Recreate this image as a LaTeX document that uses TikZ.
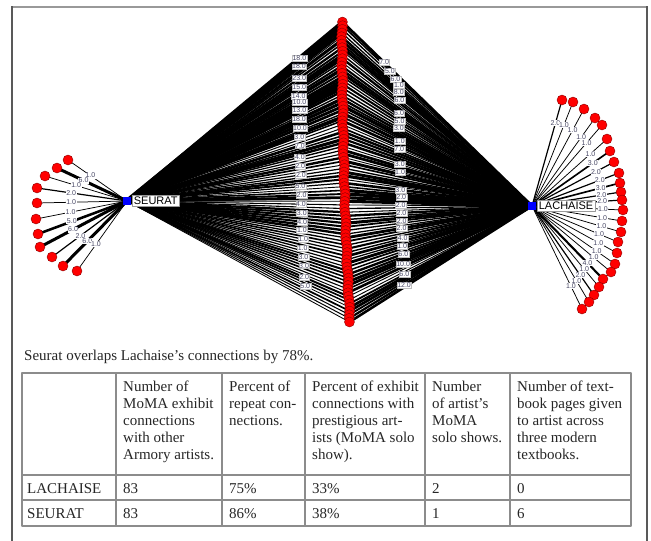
\documentclass[tikz,border=0pt]{standalone}
\usepackage{fontspec}
\setmainfont{Liberation Serif}
\setsansfont{Liberation Sans}
\usetikzlibrary{positioning,backgrounds}
\definecolor{weightgray}{RGB}{70,70,100}
\definecolor{rulegray}{RGB}{140,140,140}

\begin{document}
\begin{tikzpicture}[x=1pt,y=-1pt,line join=round]
	\tikzstyle{artist}=[circle,fill=red,draw=red!55!black,line width=0.4pt,minimum size=10pt,inner sep=0pt]
	\tikzstyle{hub}=[rectangle,fill=blue,minimum size=8pt,inner sep=0pt]
	\tikzstyle{hub label}=[fill=white,draw=black!40,line width=0.3pt,inner sep=1.5pt,font=\sffamily\fontsize{11}{12}\selectfont]
	\tikzstyle{weight}=[fill=white,draw=black!25,line width=0.2pt,inner sep=0.5pt,text=weightgray,font=\sffamily\fontsize{7}{7}\selectfont]
	\tikzstyle{link}=[draw=black]
	\tikzstyle{cell}=[inner sep=0pt,align=left,text=black!85,font=\fontsize{15}{17}\selectfont]
	
	\useasboundingbox (0,0) rectangle (651,541);
	\pgfmathsetseed{11}
	
	% Frame of the figure
	\draw[black!40,line width=2pt] (11,7) -- (648,7);
	\draw[black!65,line width=1.2pt] (12,6) -- (12,541);
	\draw[black!65,line width=1.2pt] (647,6) -- (647,541);
	
	% Draw the two hubs
	\node[hub] (S) at (127,201) {};
	\node[hub label,right=1pt of S] (S-l) {SEURAT};
	\node[hub] (L) at (532,206) {};
	\node[hub label,right=1pt of L] (L-l) {LACHAISE};
	
	% Draw the shared artists
	\foreach \name in {1,...,83}
	\node[artist] (M-\name) at ({342+8*((\name-1)/82)*((\name-1)/82)+0.6*sin(\name*47)},{22+(\name-1)*3.6585}) {};
	
	% Draw the artists linked to Seurat only
	\foreach \name / \x / \y in {1/68/160,2/57/168,3/45/176,4/37/188,5/37/203,6/36/219,7/38/234,8/40/247,9/52/257,10/63/266,11/77/271}
	\node[artist] (SA-\name) at (\x,\y) {};
	
	% Draw the artists linked to Lachaise only
	\foreach \name / \x / \y in {1/562/100,2/573/102,3/584/109,4/595/118,5/602/125,6/607/139,7/610/151,8/614/162,9/619/173,10/620/183,11/621/192,12/622/200,13/623/210,14/622/221,15/621/232,16/618/242,17/617/253,18/615/264,19/611/272,20/603/279,21/599/287,22/594/295,23/589/302,24/582/309}
	\node[artist] (LA-\name) at (\x,\y) {};
	
	\begin{scope}[on background layer]
		% Connect Seurat to the shared artists
		\foreach \name in {1,...,83}{
			\pgfmathsetmacro\w{0.8+rnd*(4.2-3.2*\name/83)}
			\draw[link,line width=\w pt] (S.center) -- (M-\name.center);
		}
		
		% Connect Lachaise to the shared artists
		\foreach \name in {1,...,83}{
			\pgfmathsetmacro\w{0.9+rnd*2.4}
			\draw[link,line width=\w pt] (L.center) -- (M-\name.center);
		}
		
		% Weights on the shared links
		\foreach \name / \v in {1/18.0,4/18.0,8/23.0,11/15.0,14/14.0,16/10.0,19/13.0,22/18.0,25/10.0,28/3.0,31/7.0,35/4.0,38/2.0,41/2.0,45/5.0,48/2.0,51/4.0,54/3.0,57/4.0,60/1.0,63/1.0,66/1.0,69/3.0,72/3.0,76/2.0,79/5.0}
		\path (S.center) -- (M-\name.center) node[weight,pos=0.8] {\v};
		
		\foreach \name / \p / \v in {1/0.78/7.0,2/0.75/5.0,3/0.72/6.0,4/0.7/1.0,7/0.7/8.0,10/0.7/6.0,15/0.7/6.0,18/0.7/5.0,21/0.7/3.0,26/0.7/1.0,29/0.7/7.0,35/0.7/3.0,38/0.7/1.0,45/0.7/3.0,48/0.7/2.0,51/0.7/2.0,54/0.7/2.0,57/0.7/2.0,60/0.7/2.0,64/0.7/4.0,67/0.7/1.0,70/0.7/6.0,74/0.7/10.0,78/0.7/6.0,82/0.7/12.0}
		\path (L.center) -- (M-\name.center) node[weight,pos=\p] {\v};
		
		% Connect Seurat to its own artists
		\foreach \name / \v in {1/1.0,2/6.0,3/1.0,4/2.0,5/1.0,6/1.0,7/5.0,8/6.0,9/2.0,10/6.0,11/1.0}{
			\pgfmathsetmacro\w{0.3+0.45*\v}
			\draw[link,line width=\w pt] (S.center) -- (SA-\name.center) node[weight,draw=none,pos=0.62] {\v};
		}
		
		% Connect Lachaise to its own artists
		\foreach \name / \v in {1/2.0,2/1.0,3/1.0,4/1.0,5/1.0,6/1.0,7/3.0,8/2.0,9/2.0,10/3.0,11/2.0,12/2.0,13/1.0,14/1.0,15/1.0,16/1.0,17/1.0,18/1.0,19/1.0,20/4.0,21/1.0,22/2.0,23/1.0,24/1.0}{
			\pgfmathsetmacro\w{0.3+0.45*\v}
			\draw[link,line width=\w pt] (L.center) -- (LA-\name.center) node[weight,draw=none,pos=0.78] {\v};
		}
	\end{scope}
	
	% Caption and table
	\node[cell,anchor=base west] (caption) at (24,360) {Seurat overlaps Lachaise’s connections by 78\%.};
	
	\draw[rulegray,line width=1.2pt] (22,373) rectangle (631,526);
	\foreach \y in {475,500}
	\draw[rulegray,line width=1.2pt] (22,\y) -- (631,\y);
	\foreach \x in {116,222,305,425,510}
	\draw[rulegray,line width=1.2pt] (\x,373) -- (\x,526);
	
	\node[cell,anchor=north west] (h-1) at (123,381) {Number of\\MoMA exhibit\\connections\\with other\\Armory artists.};
	\node[cell,anchor=north west] (h-2) at (229,381) {Percent of\\repeat con-\\nections.};
	\node[cell,anchor=north west] (h-3) at (312,381) {Percent of exhibit\\connections with\\prestigious art-\\ists (MoMA solo\\show).};
	\node[cell,anchor=north west] (h-4) at (432,381) {Number\\of artist’s\\MoMA\\solo shows.};
	\node[cell,anchor=north west] (h-5) at (517,381) {Number of text-\\book pages given\\to artist across\\three modern\\textbooks.};
	
	\foreach \row / \y / \who / \a / \b / \c / \d / \e in {1/493/LACHAISE/83/75\%/33\%/2/0,2/518/SEURAT/83/86\%/38\%/1/6}{
		\node[cell,anchor=base west] (r\row-1) at (27,\y) {\who};
		\node[cell,anchor=base west] (r\row-2) at (123,\y) {\a};
		\node[cell,anchor=base west] (r\row-3) at (229,\y) {\b};
		\node[cell,anchor=base west] (r\row-4) at (312,\y) {\c};
		\node[cell,anchor=base west] (r\row-5) at (432,\y) {\d};
		\node[cell,anchor=base west] (r\row-6) at (517,\y) {\e};
	}
\end{tikzpicture}
\end{document}
